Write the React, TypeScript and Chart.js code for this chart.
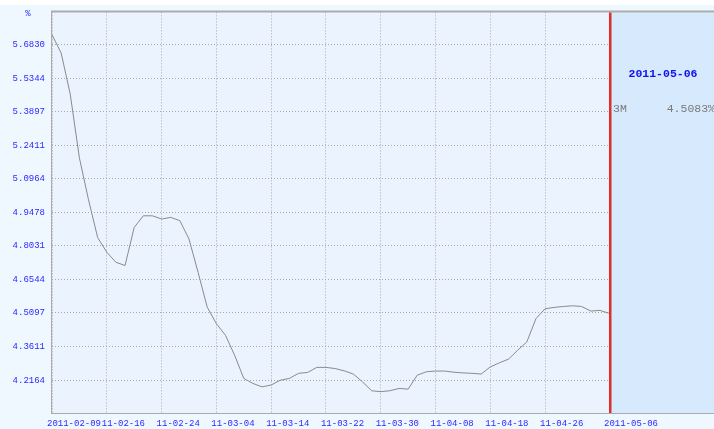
import React, { useEffect, useRef } from "react";
import { Chart, registerables } from "chart.js";
Chart.register(...registerables);

const dates = [
  "2011-02-09", "2011-02-10", "2011-02-11", "2011-02-12", "2011-02-14", "2011-02-15", "2011-02-16",
  "2011-02-17", "2011-02-18", "2011-02-21", "2011-02-22", "2011-02-23", "2011-02-24",
  "2011-02-25", "2011-02-28", "2011-03-01", "2011-03-02", "2011-03-03", "2011-03-04",
  "2011-03-07", "2011-03-08", "2011-03-09", "2011-03-10", "2011-03-11", "2011-03-14",
  "2011-03-15", "2011-03-16", "2011-03-17", "2011-03-18", "2011-03-21", "2011-03-22",
  "2011-03-23", "2011-03-24", "2011-03-25", "2011-03-28", "2011-03-29", "2011-03-30",
  "2011-03-31", "2011-04-01", "2011-04-02", "2011-04-06", "2011-04-07", "2011-04-08",
  "2011-04-11", "2011-04-12", "2011-04-13", "2011-04-14", "2011-04-15", "2011-04-18",
  "2011-04-19", "2011-04-20", "2011-04-21", "2011-04-22", "2011-04-25", "2011-04-26",
  "2011-04-27", "2011-04-28", "2011-04-29", "2011-05-03", "2011-05-04", "2011-05-05", "2011-05-06",
];

const rates3M = [
  5.725, 5.645, 5.465, 5.187, 5.004, 4.839, 4.775,
  4.731, 4.717, 4.883, 4.934, 4.934, 4.920,
  4.927, 4.913, 4.833, 4.687, 4.535, 4.463,
  4.412, 4.325, 4.224, 4.202, 4.187, 4.195,
  4.216, 4.224, 4.246, 4.250, 4.272, 4.272,
  4.267, 4.257, 4.243, 4.209, 4.170, 4.166,
  4.170, 4.180, 4.177, 4.238, 4.253, 4.256,
  4.256, 4.251, 4.248, 4.246, 4.243, 4.274,
  4.292, 4.308, 4.347, 4.383, 4.485, 4.528,
  4.534, 4.538, 4.541, 4.538, 4.518, 4.521, 4.5083,
];

const yTickValues = [5.683, 5.5344, 5.3897, 5.2411, 5.0964, 4.9478, 4.8031, 4.6544, 4.5097, 4.3611, 4.2164];
const xTickIndexes = [0, 6, 12, 18, 24, 30, 36, 42, 48, 54, 61];
const seriesName = "3M";
const unitLabel = "%";
const yMin = 4.0728;
const yMax = 5.8223;

const MONO = "'Liberation Mono', 'DejaVu Sans Mono', monospace";

const decor = {
  id: "decor",
  beforeDraw(chart: any) {
    const { ctx, chartArea: a, width, height } = chart;
    ctx.save();
    ctx.fillStyle = "#ffffff";
    ctx.fillRect(0, 0, width, height);
    ctx.fillStyle = "#f0f8ff";
    ctx.fillRect(0, 5, width, height - 5);
    ctx.fillStyle = "#eaf3fe";
    ctx.fillRect(a.left, a.top, a.right - a.left, a.bottom - a.top);
    ctx.fillStyle = "#d7e9fc";
    ctx.fillRect(a.right, a.top, width - a.right, a.bottom - a.top);
    ctx.restore();
  },
  afterDatasetsDraw(chart: any) {
    const { ctx, chartArea: a, width, scales } = chart;
    const last = dates.length - 1;
    const xr = Math.round(scales.x.getPixelForValue(last));
    ctx.save();
    ctx.strokeStyle = "#ababab";
    ctx.lineWidth = 2;
    ctx.beginPath();
    ctx.moveTo(a.left - 1, a.top - 1);
    ctx.lineTo(width, a.top - 1);
    ctx.stroke();
    ctx.lineWidth = 1;
    ctx.beginPath();
    ctx.moveTo(a.left - 0.5, a.top);
    ctx.lineTo(a.left - 0.5, a.bottom + 1);
    ctx.moveTo(a.left, a.bottom + 0.5);
    ctx.lineTo(width, a.bottom + 0.5);
    ctx.stroke();
    ctx.strokeStyle = "#a4a4a4";
    ctx.lineWidth = 1;
    ctx.beginPath();
    ctx.moveTo(xr + 2.5, a.top);
    ctx.lineTo(xr + 2.5, a.bottom);
    ctx.stroke();
    ctx.strokeStyle = "#ff2020";
    ctx.lineWidth = 2;
    ctx.beginPath();
    ctx.moveTo(xr + 1, a.top);
    ctx.lineTo(xr + 1, a.bottom);
    ctx.stroke();

    // unit label
    ctx.fillStyle = "#2a2aff";
    ctx.font = `9px ${MONO}`;
    ctx.textAlign = "center";
    ctx.textBaseline = "middle";
    ctx.fillText(unitLabel, scales.y.left + 28, a.top + 1);

    // right panel
    const panelMid = (xr + 3 + width) / 2;
    ctx.fillStyle = "#1010ee";
    ctx.font = `bold 11.5px ${MONO}`;
    ctx.textAlign = "center";
    ctx.fillText(dates[last], panelMid, a.top + 62);
    ctx.fillStyle = "#7a7a7a";
    ctx.font = `11.5px ${MONO}`;
    ctx.textAlign = "left";
    ctx.fillText(seriesName, xr + 4, a.top + 97);
    ctx.textAlign = "right";
    ctx.fillText(rates3M[last].toFixed(4) + "%", width + 1, a.top + 97);
    ctx.restore();
  },
};

export default function App() {
  const ref = useRef<HTMLCanvasElement>(null);
  useEffect(() => {
    if (!ref.current) return;
    const chart = new Chart(ref.current, {
      type: "line",
      data: {
        labels: dates,
        datasets: [
          {
            label: seriesName,
            data: rates3M,
            borderColor: "#8a8a8a",
            borderWidth: 1,
            pointRadius: 0,
            tension: 0,
            fill: false,
          },
        ],
      },
      options: {
        animation: false,
        responsive: false,
        maintainAspectRatio: false,
        layout: { padding: { left: 0, top: 11, right: 105, bottom: 0 } },
        plugins: { legend: { display: false }, tooltip: { enabled: false } },
        scales: {
          x: {
            type: "category",
            offset: false,
            afterBuildTicks: (s: any) => {
              s.ticks = xTickIndexes.map((i) => ({ value: i }));
            },
            afterFit: (s: any) => {
              s.height = 16;
            },
            grid: { color: "#a9a9a9", drawTicks: false, lineWidth: 1 },
            border: { display: false, dash: [1, 2] },
            ticks: {
              autoSkip: false,
              maxRotation: 0,
              align: "start",
              labelOffset: -5,
              padding: 5,
              color: "#2a2aff",
              font: { family: MONO, size: 9 },
              callback: (v: any) => {
                const d = dates[v as number];
                const isEnd = v === 0 || v === dates.length - 1;
                return isEnd ? d : d.slice(2);
              },
            },
          },
          y: {
            min: yMin,
            max: yMax,
            afterBuildTicks: (s: any) => {
              s.ticks = yTickValues.map((v) => ({ value: v }));
            },
            afterFit: (s: any) => {
              s.width = 52;
            },
            grid: { color: "#a9a9a9", drawTicks: false, lineWidth: 1 },
            border: { display: false, dash: [1, 2] },
            ticks: {
              padding: 7,
              color: "#2a2aff",
              font: { family: MONO, size: 9 },
              callback: (v: any) => Number(v).toFixed(4),
            },
          },
        },
      },
      plugins: [decor],
    });
    return () => chart.destroy();
  }, []);
  return (
    <div style={{ position: "absolute", left: 0, top: 0, width: 714, height: 429 }}>
      <canvas ref={ref} width={714} height={429} style={{ display: "block" }} />
    </div>
  );
}
